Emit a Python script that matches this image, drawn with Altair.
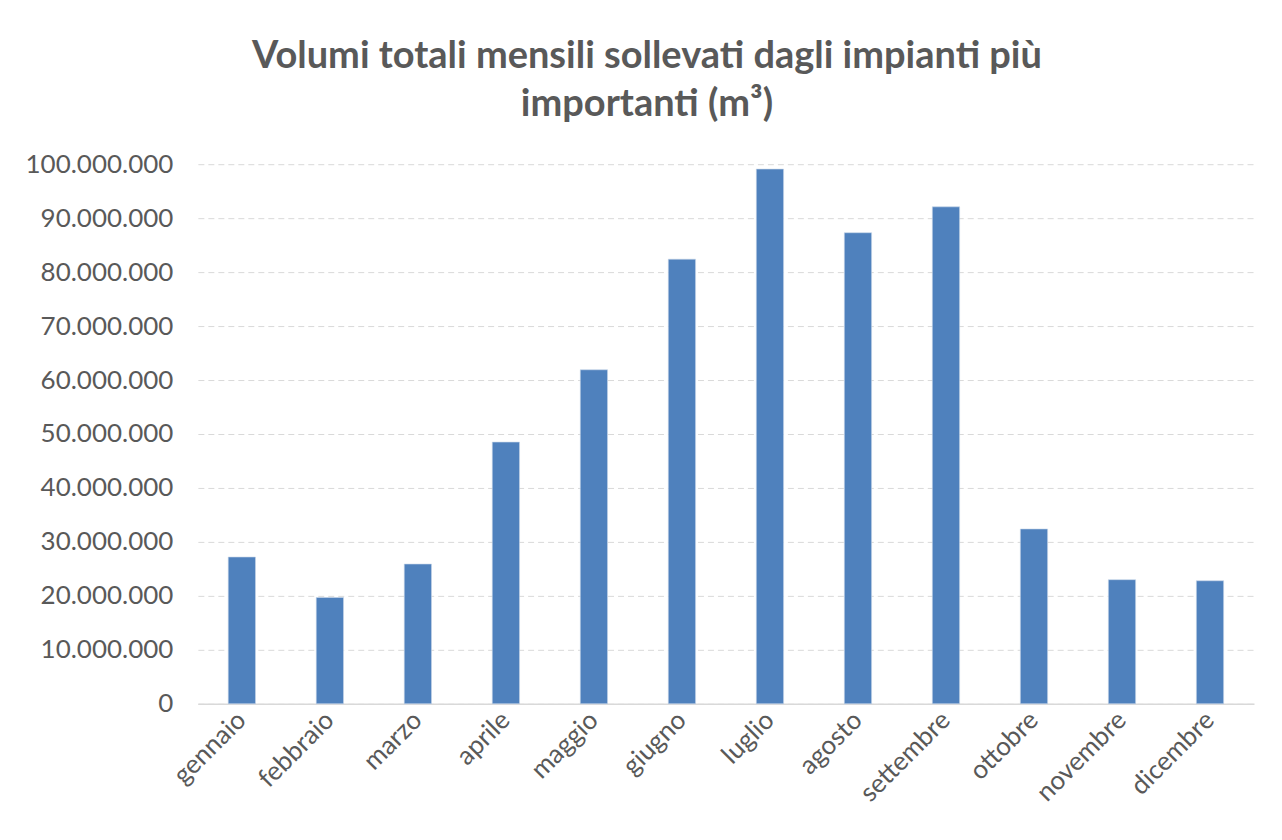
import altair as alt
import pandas as pd

months = ["gennaio", "febbraio", "marzo", "aprile", "maggio", "giugno",
          "luglio", "agosto", "settembre", "ottobre", "novembre", "dicembre"]
volumes = [27200000, 19700000, 25900000, 48500000, 61900000, 82400000,
           99100000, 87300000, 92100000, 32400000, 23000000, 22800000]
y_ticks = [0, 10000000, 20000000, 30000000, 40000000, 50000000,
           60000000, 70000000, 80000000, 90000000, 100000000]
title_lines = ["Volumi totali mensili sollevati dagli impianti più", "importanti (m³)"]

df = pd.DataFrame({"mese": months, "volume": volumes})

FONT = "Lato"
GREY = "#595959"

chart = alt.Chart(df).mark_bar(color="#4F81BD", stroke="#C9D6EA", strokeWidth=0.6).encode(
    x=alt.X("mese:N", sort=months, title=None,
            scale=alt.Scale(paddingInner=0.69, paddingOuter=0.345),
            axis=alt.Axis(labelAngle=315, labelAlign="right", labelBaseline="middle",
                          labelPadding=12, ticks=False, domainColor="#D9D9D9",
                          domainWidth=1.5, labelFont=FONT, labelFontSize=26,
                          labelColor=GREY, grid=False)),
    y=alt.Y("volume:Q", title=None,
            scale=alt.Scale(domain=[0, 100000000], nice=False),
            axis=alt.Axis(values=y_ticks, ticks=False, domain=False,
                          labelExpr="replace(format(datum.value, ',d'), regexp(',', 'g'), '.')",
                          labelFont=FONT, labelFontSize=26, labelColor=GREY,
                          labelPadding=25, gridColor="#D9D9D9", gridDash=[6, 4],
                          gridWidth=1)),
).properties(
    width=1057, height=540,
    background="white",
    title=alt.TitleParams(text=title_lines, font=FONT, fontSize=38, fontWeight="bold",
                          color=GREY, anchor="middle", lineHeight=48, offset=27, dx=-79),
    autosize=alt.AutoSizeParams(type="none"),
    padding={"left": 190, "top": 156, "right": 20, "bottom": 130},
).configure_view(strokeWidth=0)

chart.save("out.html", embed_options={"renderer": "svg", "actions": False})
